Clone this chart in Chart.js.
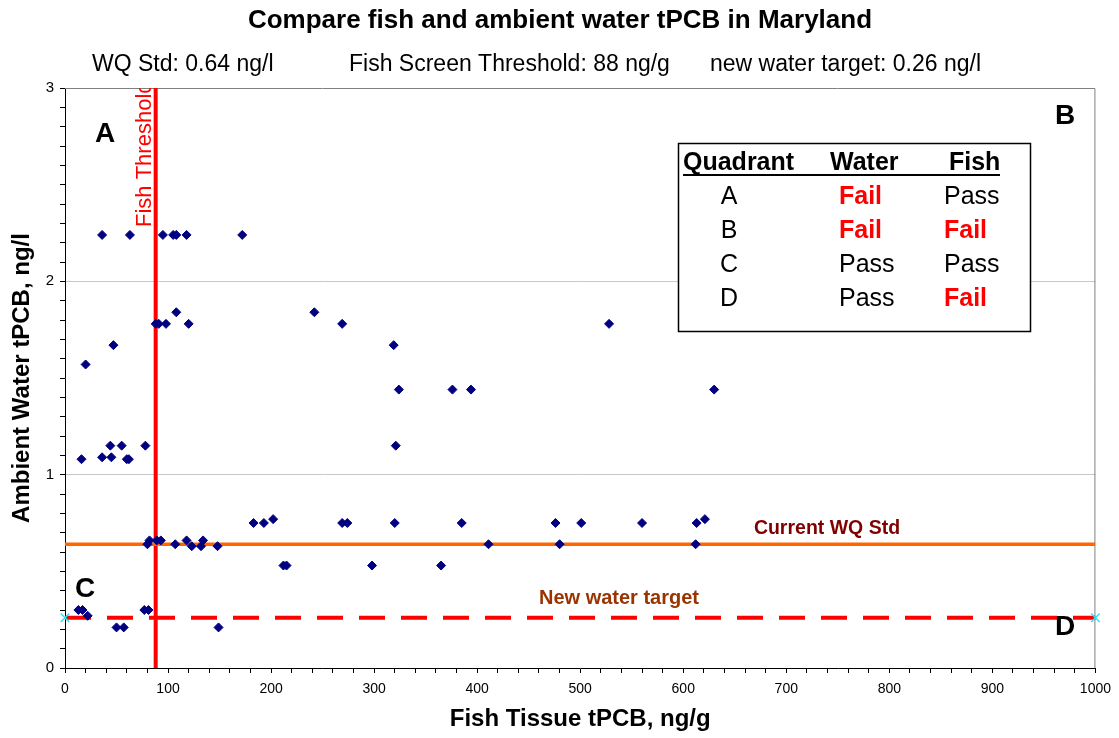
<!DOCTYPE html>
<html>
<head>
<meta charset="utf-8">
<title>Compare fish and ambient water tPCB in Maryland</title>
<script src="https://cdn.jsdelivr.net/npm/chart.js@4.4.1/dist/chart.umd.min.js"></script>
<style>
  html, body { margin: 0; padding: 0; background: #fff; }
  canvas { display: block; }
</style>
</head>
<body>
<canvas id="fishChart" width="1119" height="738"></canvas>
<script>
// fish tissue tPCB (ng/g) and ambient water tPCB (ng/l) for each station
const fishTissue = [
  36, 63, 95, 105, 108, 118, 172,
  108, 242,
  88, 91, 98, 120, 269, 528,
  47, 319,
  20,
  324, 376, 394, 630,
  44, 55, 78, 321,
  36, 45,
  16, 60, 62,
  202, 621,
  183, 193, 269, 274, 320, 385, 476, 501, 560, 613,
  82, 89, 93, 118, 134,
  80, 107, 411, 480, 612,
  123, 132, 148,
  212, 215, 298, 365,
  13, 17, 77, 81,
  22,
  50, 57, 149
];
const ambientWater = [
  2.24, 2.24, 2.24, 2.24, 2.24, 2.24, 2.24,
  1.84, 1.84,
  1.78, 1.78, 1.78, 1.78, 1.78, 1.78,
  1.67, 1.67,
  1.57,
  1.44, 1.44, 1.44, 1.44,
  1.15, 1.15, 1.15, 1.15,
  1.09, 1.09,
  1.08, 1.08, 1.08,
  0.77, 0.77,
  0.75, 0.75, 0.75, 0.75, 0.75, 0.75, 0.75, 0.75, 0.75, 0.75,
  0.66, 0.66, 0.66, 0.66, 0.66,
  0.64, 0.64, 0.64, 0.64, 0.64,
  0.63, 0.63, 0.63,
  0.53, 0.53, 0.53, 0.53,
  0.30, 0.30, 0.30, 0.30,
  0.27,
  0.21, 0.21, 0.21
];

const fishThreshold = 88;     // ng/g
const wqStd = 0.64;           // ng/l
const newWaterTarget = 0.26;  // ng/l
const xRange = [0, 1000];
const yRange = [0, 3];

const quadrantRows = [
  ['A', 'Fail', 'Pass'],
  ['B', 'Fail', 'Fail'],
  ['C', 'Pass', 'Pass'],
  ['D', 'Pass', 'Fail']
];

const FONT = 'Arial, "Liberation Sans", sans-serif';
Chart.defaults.font.family = FONT;
Chart.defaults.color = '#000';

const isWhole = v => Math.abs(v - Math.round(v)) < 1e-6;

// extra text and frame that Excel drew on the chart
const annotations = {
  id: 'annotations',
  beforeDatasetsDraw(chart) {
    const {ctx, chartArea: a} = chart;
    ctx.save();
    ctx.strokeStyle = '#808080';
    ctx.lineWidth = 1;
    ctx.beginPath();
    ctx.moveTo(a.left, a.top + 0.5);
    ctx.lineTo(a.right - 0.5, a.top + 0.5);
    ctx.lineTo(a.right - 0.5, a.bottom);
    ctx.stroke();
    ctx.restore();
  },
  afterDatasetsDraw(chart) {
    const {ctx, chartArea: a, scales} = chart;
    ctx.save();

    // titles
    ctx.fillStyle = '#000';
    ctx.textBaseline = 'middle';
    ctx.textAlign = 'center';
    ctx.font = 'bold 26px ' + FONT;
    ctx.fillText('Compare fish and ambient water tPCB in Maryland', 560, 21);
    ctx.textAlign = 'left';
    ctx.font = '23px ' + FONT;
    ctx.fillText('WQ Std: ' + wqStd + ' ng/l', 92, 65);
    ctx.fillText('Fish Screen Threshold: ' + fishThreshold + ' ng/g', 349, 65);
    ctx.fillText('new water target: ' + newWaterTarget + ' ng/l', 710, 65);

    // line labels
    ctx.textAlign = 'center';
    ctx.font = 'bold 19.5px ' + FONT;
    ctx.fillStyle = '#800000';
    ctx.fillText('Current WQ Std', 827, 529);
    ctx.font = 'bold 20px ' + FONT;
    ctx.fillStyle = '#993300';
    ctx.fillText('New water target', 619, 598);

    // quadrant letters
    ctx.fillStyle = '#000';
    ctx.font = 'bold 28px ' + FONT;
    ctx.fillText('A', 105, 134);
    ctx.fillText('B', 1065, 116);
    ctx.fillText('C', 85, 589);
    ctx.fillText('D', 1065, 627);

    // rotated threshold label, clipped by the plot frame
    ctx.save();
    ctx.beginPath();
    ctx.rect(a.left, a.top, a.right - a.left, a.bottom - a.top);
    ctx.clip();
    ctx.translate(scales.x.getPixelForValue(fishThreshold) - 11, 227);
    ctx.rotate(-Math.PI / 2);
    ctx.textAlign = 'left';
    ctx.font = '22px ' + FONT;
    ctx.fillStyle = '#FF0000';
    ctx.fillText('Fish Threshold', 0, 0);
    ctx.restore();

    // quadrant table
    const bx = 678, by = 143, bw = 352, bh = 188;
    ctx.fillStyle = '#fff';
    ctx.fillRect(bx, by, bw, bh);
    ctx.strokeStyle = '#000';
    ctx.lineWidth = 1.5;
    ctx.strokeRect(bx + 0.5, by + 0.5, bw, bh);

    ctx.fillStyle = '#000';
    ctx.textAlign = 'left';
    ctx.font = 'bold 25px ' + FONT;
    ctx.fillText('Quadrant', 683, 163);
    ctx.fillText('Water', 830, 163);
    ctx.fillText('Fish', 949, 163);
    ctx.lineWidth = 2;
    ctx.beginPath();
    ctx.moveTo(683, 175);
    ctx.lineTo(1000, 175);
    ctx.stroke();

    const cols = [729, 839, 944];
    quadrantRows.forEach((row, i) => {
      const y = 197 + i * 34;
      row.forEach((txt, j) => {
        ctx.textAlign = j === 0 ? 'center' : 'left';
        if (txt === 'Fail' && j > 0) {
          ctx.font = 'bold 25px ' + FONT;
          ctx.fillStyle = '#FF0000';
        } else {
          ctx.font = '25px ' + FONT;
          ctx.fillStyle = '#000';
        }
        ctx.fillText(txt, cols[j], y);
      });
    });
    ctx.restore();
  }
};

const stations = fishTissue.map((x, i) => ({x: x, y: ambientWater[i]}));

new Chart(document.getElementById('fishChart'), {
  type: 'scatter',
  data: {
    datasets: [
      {
        label: 'Stations',
        data: stations,
        backgroundColor: '#000080',
        borderColor: '#000080',
        pointStyle: 'rectRot',
        pointRadius: 4.5,
        pointBorderWidth: 1,
        order: 0
      },
      {
        label: 'Fish Threshold',
        data: [{x: fishThreshold, y: yRange[0]}, {x: fishThreshold, y: yRange[1]}],
        showLine: true,
        borderColor: '#FF0000',
        borderWidth: 4,
        pointRadius: 0,
        clip: false,
        order: 2
      },
      {
        label: 'Current WQ Std',
        data: [{x: xRange[0], y: wqStd}, {x: xRange[1], y: wqStd}],
        showLine: true,
        borderColor: '#FF6600',
        borderWidth: 3.5,
        pointRadius: 0,
        order: 1
      },
      {
        label: 'New water target',
        data: [{x: xRange[0], y: newWaterTarget}, {x: xRange[1], y: newWaterTarget}],
        showLine: true,
        borderColor: '#FF0000',
        borderWidth: 4,
        borderDash: [26, 16],
        pointStyle: 'crossRot',
        pointRadius: 6,
        pointBorderColor: '#33E0F0',
        pointBorderWidth: 1.5,
        clip: false,
        order: 1
      }
    ]
  },
  options: {
    responsive: false,
    animation: false,
    layout: {padding: {top: 88, right: 20, left: 0, bottom: 0}},
    plugins: {
      legend: {display: false},
      tooltip: {enabled: false}
    },
    scales: {
      x: {
        type: 'linear',
        min: xRange[0],
        max: xRange[1],
        afterFit: s => { s.height = 70; },
        border: {color: '#000', width: 1},
        grid: {drawOnChartArea: false, tickColor: '#000', tickLength: 5},
        ticks: {
          stepSize: 20,
          autoSkip: false,
          maxRotation: 0,
          padding: 8,
          font: {size: 14},
          callback: v => (Math.round(v) % 100 === 0 ? Math.round(v) : '')
        },
        title: {
          display: true,
          text: 'Fish Tissue tPCB, ng/g',
          font: {size: 24, weight: 'bold'},
          padding: {top: 0, bottom: 4}
        }
      },
      y: {
        type: 'linear',
        min: yRange[0],
        max: yRange[1],
        afterFit: s => { s.width = 65; },
        border: {color: '#000', width: 1},
        grid: {
          color: ctx => (isWhole(ctx.tick.value) && ctx.tick.value > 0 && ctx.tick.value < 3) ? '#C8C8C8' : 'rgba(0,0,0,0)',
          tickColor: '#000',
          tickLength: 5
        },
        ticks: {
          stepSize: 0.1,
          autoSkip: false,
          padding: 6,
          font: {size: 15},
          callback: v => (isWhole(v) ? Math.round(v) : '')
        },
        title: {
          display: true,
          text: 'Ambient Water tPCB, ng/l',
          font: {size: 24, weight: 'bold'},
          padding: {top: 8, bottom: 0}
        }
      }
    }
  },
  plugins: [annotations]
});
</script>
</body>
</html>
